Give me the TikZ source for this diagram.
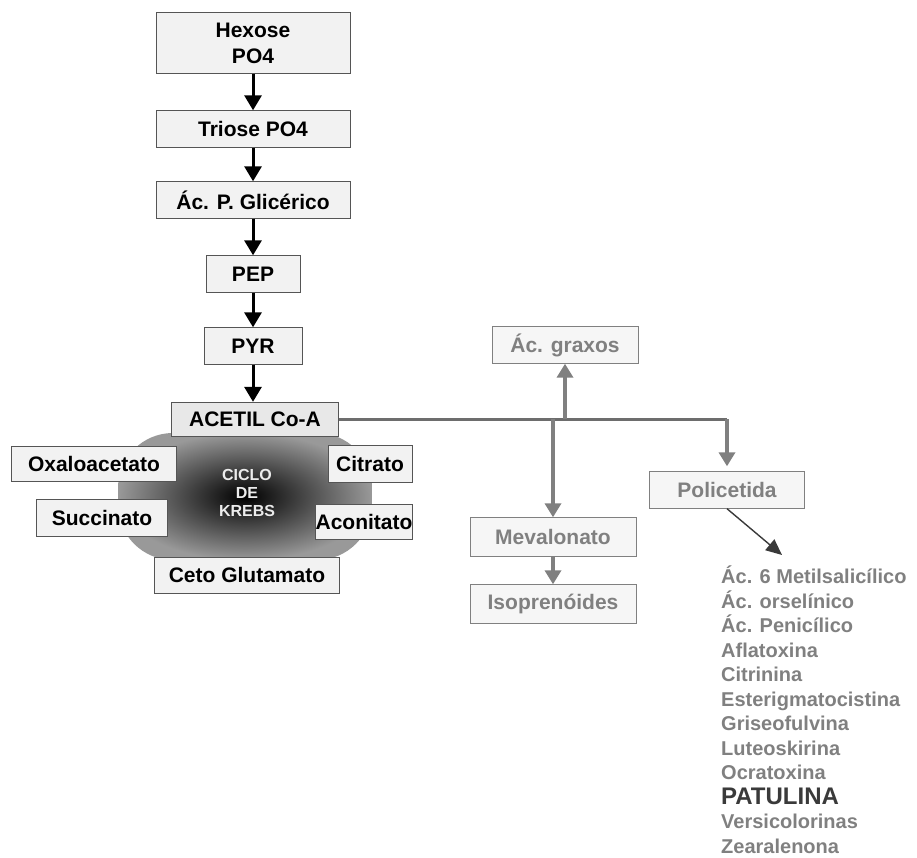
\documentclass[tikz,border=0pt]{standalone}
\usepackage{fontspec}
\setmainfont{Liberation Sans}
\usepackage{xcolor}
\usetikzlibrary{shapes.geometric, arrows.meta}
\definecolor{boxfill}{HTML}{F2F2F2}
\definecolor{acetilfill}{HTML}{E8E8E8}
\definecolor{boxline}{HTML}{555555}
\definecolor{rfill}{HTML}{F6F6F6}
\definecolor{rgray}{HTML}{808080}
\definecolor{patgray}{HTML}{3A3A3A}
\tikzstyle{process} = [rectangle, minimum height=37pt, inner sep=0pt, text centered, draw=boxline, fill=boxfill, font=\fontsize{21}{26}\selectfont\bfseries]
\tikzstyle{product} = [rectangle, minimum height=37pt, inner sep=0pt, text centered, draw=rgray, fill=rfill, text=rgray, font=\fontsize{21}{26}\selectfont\bfseries]
\tikzstyle{arrow} = [line width=3pt, -{Triangle[length=15pt,width=17pt]}]
\tikzstyle{garrow} = [line width=3.8pt, draw=rgray, -{Triangle[length=14pt,width=16pt]}]
\tikzstyle{gline} = [line width=3pt, draw=rgray!85!black]

\begin{document}
\begin{tikzpicture}[x=1pt, y=-1pt, node distance=72pt]
    \useasboundingbox (0,0) rectangle (917,858);
    % ciclo de krebs
    \shade[inner color=black, outer color=gray!80, rounded corners=55pt] (118,433) rectangle (372,560);
    \node (krebs) [align=center, text=gray!15, font=\fontsize{16}{18}\selectfont\bfseries] at (247,493) {CICLO\\DE\\KREBS};

    % glicolise
    \node (hexose) [process, minimum width=194pt, minimum height=61pt, align=center] at (253,43) {Hexose\\PO4};
    \node (triose) [process, minimum width=194pt, below of=hexose, node distance=86pt] {Triose PO4};
    \node (glic) [process, minimum width=194pt, below of=triose, node distance=71pt] {Ác. P. Glicérico};
    \node (pep) [process, minimum width=94pt, below of=glic, node distance=74pt] {PEP};
    \node (pyr) [process, minimum width=98pt, below of=pep] {PYR};
    \node (acetil) [process, minimum width=167pt, minimum height=34pt, fill=acetilfill, below of=pyr, node distance=73pt, xshift=2pt] {ACETIL Co-A};
    \draw[arrow] (hexose)--(triose);
    \draw[arrow] (triose)--(glic);
    \draw[arrow] (glic)--(pep);
    \draw[arrow] (pep)--(pyr);
    \draw[arrow] (pyr.south)--(pyr.south |- acetil.north);

    \node (oxalo) [process, minimum width=165pt, minimum height=35pt] at (94,464) {Oxaloacetato};
    \node (citrato) [process, minimum width=84pt] at (370,464) {Citrato};
    \node (succ) [process, minimum width=131pt] at (102,518) {Succinato};
    \node (acon) [process, minimum width=95pt, minimum height=35pt] at (364,522) {Aconitato};
    \node (ceto) [process, minimum width=185pt, minimum height=36pt] at (247,575) {Ceto Glutamato};

    % derivados
    \node (graxos) [product, minimum width=146pt] at (565,345) {Ác. graxos};
    \node (poli) [product, minimum width=155pt] at (727,490) {Policetida};
    \node (meva) [product, minimum width=166pt, minimum height=39pt] at (553,537) {Mevalonato};
    \node (isop) [product, minimum width=166pt, minimum height=39pt] at (553,604) {Isoprenóides};
    \coordinate (j1) at (meva.north |- acetil.east);
    \coordinate (j2) at (graxos.south |- acetil.east);
    \coordinate (j3) at (poli.north |- acetil.east);
    \coordinate (alvo) at (782,555);
    \draw[gline] (acetil.east)--(j3);
    \draw[garrow] (j2)--(graxos.south);
    \draw[garrow] (j1)--(meva.north);
    \draw[garrow, shorten >=5pt] (j3)--(poli.north);
    \draw[garrow] (meva)--(isop);
    \draw[line width=1.4pt, draw=patgray, -{Triangle[length=16pt,width=14pt]}] (poli.south)--(alvo);

    \node (lista) [anchor=north west, inner sep=0pt, align=left, text=rgray, font=\fontsize{20}{24.5}\selectfont\bfseries] at (721,566) {Ác. 6 Metilsalicílico\\Ác. orselínico\\Ác. Penicílico\\Aflatoxina\\Citrinina\\Esterigmatocistina\\Griseofulvina\\Luteoskirina\\Ocratoxina\\{\fontsize{24}{24.5}\selectfont\color{patgray}PATULINA}\\Versicolorinas\\Zearalenona};
\end{tikzpicture}
\end{document}
